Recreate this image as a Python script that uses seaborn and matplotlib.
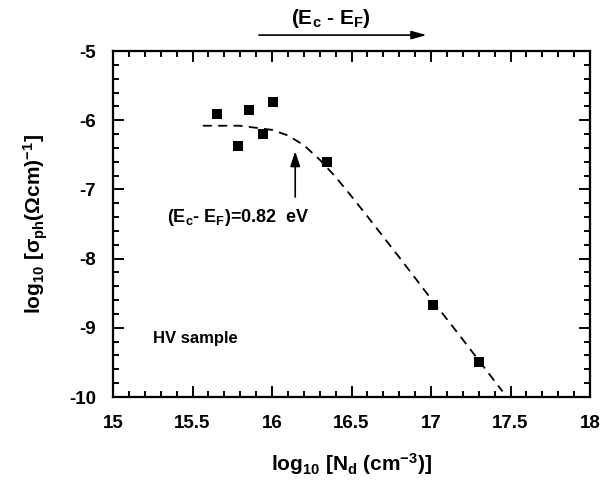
import matplotlib
matplotlib.use("Agg")
import matplotlib.pyplot as plt
import seaborn as sns
import pandas as pd
from matplotlib.ticker import MultipleLocator

# data
log_nd = [15.652, 15.784, 15.855, 15.945, 16.008, 16.344, 17.011, 17.302]
log_sigma = [-5.915, -6.37, -5.85, -6.195, -5.73, -6.61, -8.67, -9.50]

fit_x = [15.565, 15.8, 16.0, 16.1, 16.2, 16.3, 16.4, 16.5, 16.6, 16.8, 17.0, 17.2, 17.31, 17.45]
fit_y = [-6.08, -6.08, -6.14, -6.22, -6.36, -6.57, -6.82, -7.10, -7.39, -7.98, -8.58, -9.17, -9.50, -9.92]

xticks = [15, 15.5, 16, 16.5, 17, 17.5, 18]
xticklabels = ["15", "15.5", "16", "16.5", "17", "17.5", "18"]
yticks = [-10, -9, -8, -7, -6, -5]
yticklabels = ["-10", "-9", "-8", "-7", "-6", "-5"]

sns.set_style("ticks")
plt.rcParams["font.family"] = ["Liberation Sans", "DejaVu Sans"]
plt.rcParams["font.weight"] = "bold"
plt.rcParams["text.color"] = "black"
plt.rcParams["axes.labelcolor"] = "black"
plt.rcParams["xtick.color"] = "black"
plt.rcParams["ytick.color"] = "black"
plt.rcParams["mathtext.fontset"] = "custom"
plt.rcParams["mathtext.rm"] = "Liberation Sans:bold"
plt.rcParams["mathtext.it"] = "Liberation Sans:bold"
plt.rcParams["mathtext.bf"] = "Liberation Sans:bold"

fig = plt.figure(figsize=(6.03, 4.90), dpi=100)
ax = fig.add_axes([113 / 603, 1 - 397 / 490, (590 - 113) / 603, (397 - 51) / 490])

pts = pd.DataFrame({"x": log_nd, "y": log_sigma})
fit = pd.DataFrame({"x": fit_x, "y": fit_y})

sns.lineplot(data=fit, x="x", y="y", ax=ax, color="black", lw=1.3,
             linestyle=(0, (5, 3.5)), sort=False)
sns.scatterplot(data=pts, x="x", y="y", ax=ax, marker="s", s=55,
                color="black", edgecolor="black", linewidth=0, zorder=3)

ax.set_xlim(15, 18)
ax.set_ylim(-10, -5)
ax.set_xticks(xticks)
ax.set_xticklabels(xticklabels)
ax.set_yticks(yticks)
ax.set_yticklabels(yticklabels)
ax.xaxis.set_minor_locator(MultipleLocator(0.1))
ax.yaxis.set_minor_locator(MultipleLocator(0.2))
ax.tick_params(which="both", direction="in", top=True, right=True, width=1.4,
               colors="black", labelcolor="black")
ax.tick_params(which="major", length=8, labelsize=13.5)
ax.tick_params(axis="x", which="major", pad=13)
ax.tick_params(axis="y", which="major", pad=12)
ax.tick_params(which="minor", length=4.5)
for s in ax.spines.values():
    s.set_linewidth(1.6)
    s.set_color("black")
for lab in ax.get_xticklabels() + ax.get_yticklabels():
    lab.set_fontweight("bold")

ax.set_xlabel(r"log$_{10}$ [N$_d$ (cm$^{-3}$)]", fontsize=15, fontweight="bold", labelpad=14)
ax.set_ylabel(r"log$_{10}$ [σ$_{ph}$(Ωcm)$^{-1}$]", fontsize=15, fontweight="bold", labelpad=14)

ax.text(15.25, -9.15, "HV sample", fontsize=12, fontweight="bold", va="center", ha="left")
ax.text(15.337, -7.41, r"(E$_c$- E$_F$)=0.82  eV", fontsize=13, fontweight="bold",
        va="center", ha="left")
ax.annotate("", xy=(16.146, -6.41), xytext=(16.146, -7.15),
            arrowprops=dict(arrowstyle="-|>,head_length=0.9,head_width=0.3", color="black", lw=1.2))

ax.annotate("", xy=(16.99, -4.77), xytext=(15.90, -4.77), annotation_clip=False,
            arrowprops=dict(arrowstyle="-|>,head_length=0.9,head_width=0.25", color="black", lw=1.2))
ax.text(16.37, -4.53, r"(E$_c$ - E$_F$)", fontsize=15, fontweight="bold",
        ha="center", va="center", clip_on=False)

fig.savefig("out.png", dpi=100)
